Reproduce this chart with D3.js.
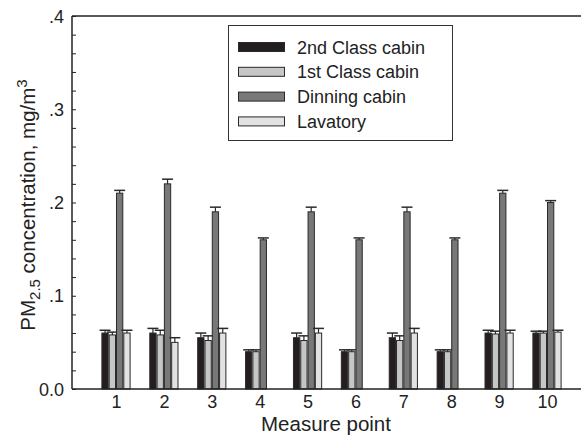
<!DOCTYPE html>
<html><head><meta charset="utf-8">
<script src="https://cdn.jsdelivr.net/npm/d3@7"></script>
<style>body{margin:0;background:#fff}svg{display:block;font-family:"Liberation Sans",Arial,sans-serif}</style>
</head><body><svg id="c" width="581" height="440"></svg>
<script>
const points = [1,2,3,4,5,6,7,8,9,10];
const seriesNames = ["2nd Class cabin","1st Class cabin","Dinning cabin","Lavatory"];
const secondClass = [0.060,0.060,0.055,0.040,0.055,0.040,0.055,0.040,0.060,0.060];
const secondClassErr = [0.003,0.005,0.005,0.002,0.005,0.002,0.005,0.002,0.003,0.002];
const firstClass = [0.058,0.058,0.052,0.040,0.052,0.040,0.052,0.040,0.059,0.060];
const firstClassErr = [0.003,0.005,0.005,0.002,0.005,0.002,0.005,0.002,0.003,0.002];
const dinning = [0.210,0.220,0.190,0.160,0.190,0.160,0.190,0.160,0.210,0.200];
const dinningErr = [0.003,0.005,0.005,0.002,0.005,0.002,0.005,0.002,0.003,0.002];
const lavatory = [0.060,0.050,0.060,null,0.060,null,0.060,null,0.060,0.061];
const lavatoryErr = [0.003,0.005,0.005,null,0.005,null,0.005,null,0.003,0.002];
const yTicks = [0,0.1,0.2,0.3,0.4];
const yTickLabels = ["0.0",".1",".2",".3",".4"];
const colors = ["#231f20","#c6c6c6","#787878","#e2e2e2"];

const series = [
  {name:seriesNames[0], v:secondClass, e:secondClassErr},
  {name:seriesNames[1], v:firstClass, e:firstClassErr},
  {name:seriesNames[2], v:dinning, e:dinningErr},
  {name:seriesNames[3], v:lavatory, e:lavatoryErr}
];

const svg = d3.select("#c");
const pL = 72, pR = 581, pT = 16, pB = 389;
const y = d3.scaleLinear().domain([0,0.4]).range([pB, pT]);
const x = d3.scaleLinear().domain([1,10]).range([116,547]);
const bw = 7.3;
const sub = d3.scaleBand().domain(d3.range(4)).range([-bw*2, bw*2]);

// bars
series.forEach((s, si) => {
  const g = svg.append("g");
  points.forEach((p, i) => {
    const v = s.v[i];
    if (v == null) return;
    const x0 = x(p) + sub(si);
    const yt = y(v);
    g.append("rect").attr("x", x0+0.5).attr("y", yt).attr("width", bw-1).attr("height", pB-yt)
      .attr("fill", colors[si]).attr("stroke", "#2a2a2a").attr("stroke-width", 1);
    const ye = y(v + s.e[i]);
    const cx = x0 + bw/2;
    g.append("line").attr("x1", cx).attr("x2", cx).attr("y1", yt).attr("y2", ye).attr("stroke", "#2a2a2a").attr("stroke-width", 1.2);
    g.append("line").attr("x1", cx-5.5).attr("x2", cx+5.5).attr("y1", ye).attr("y2", ye).attr("stroke", "#2a2a2a").attr("stroke-width", 1.5);
  });
});

// axes frame
const ax = svg.append("g").attr("stroke", "#222").attr("stroke-width", 1.5);
ax.append("line").attr("x1", pL).attr("x2", pR).attr("y1", pB).attr("y2", pB);
ax.append("line").attr("x1", pL).attr("x2", pR).attr("y1", pT).attr("y2", pT);
ax.append("line").attr("x1", pL).attr("x2", pL).attr("y1", pT).attr("y2", pB);

// y axis ticks (inside)
const yAxis = d3.axisRight(y).tickValues(d3.range(0, 0.4001, 0.02)).tickSize(4).tickFormat("");
const yg = svg.append("g").attr("transform", `translate(${pL},0)`).call(yAxis);
yg.select(".domain").remove();
yg.selectAll(".tick line").attr("stroke", "#222").attr("stroke-width", 1);

// y tick labels
svg.append("g").selectAll("text").data(yTicks).join("text")
  .attr("x", 64).attr("y", d => y(d) + 6.5).attr("text-anchor", "end")
  .attr("font-size", 18).attr("fill", "#222").text((d,i) => yTickLabels[i]);

// x tick labels
const xAxis = d3.axisBottom(x).tickValues(points).tickSize(0).tickPadding(0).tickFormat(d3.format("d"));
const xg = svg.append("g").attr("transform", `translate(0,${pB})`).call(xAxis);
xg.select(".domain").remove();
xg.selectAll(".tick text").attr("y", 6).attr("dy", "0.71em").attr("font-size", 18).attr("fill", "#222").attr("font-family", "Liberation Sans, Arial, sans-serif");

// axis titles
svg.append("text").attr("x", 326).attr("y", 431).attr("text-anchor", "middle").attr("font-size", 20.5).attr("fill", "#222").text("Measure point");
const ytl = svg.append("text").attr("transform", "translate(35,205) rotate(-90)").attr("text-anchor", "middle").attr("font-size", 20.5).attr("fill", "#222");
ytl.append("tspan").text("PM");
ytl.append("tspan").attr("font-size", 15).attr("dy", 5).text("2.5");
ytl.append("tspan").attr("dy", -5).text(" concentration, mg/m");
ytl.append("tspan").attr("font-size", 15).attr("dy", -8).text("3");

// legend
const lg = svg.append("g");
lg.append("rect").attr("x", 228.5).attr("y", 25.5).attr("width", 224).attr("height", 115).attr("fill", "#fff").attr("stroke", "#333").attr("stroke-width", 1);
series.forEach((s, si) => {
  const cy = 47 + si*24.8;
  lg.append("rect").attr("x", 238.5).attr("y", cy-4.5).attr("width", 46).attr("height", 9).attr("fill", colors[si]).attr("stroke", "#2a2a2a").attr("stroke-width", 1);
  lg.append("text").attr("x", 297).attr("y", cy + 6.5).attr("font-size", 18).attr("fill", "#222").text(s.name);
});
</script></body></html>
